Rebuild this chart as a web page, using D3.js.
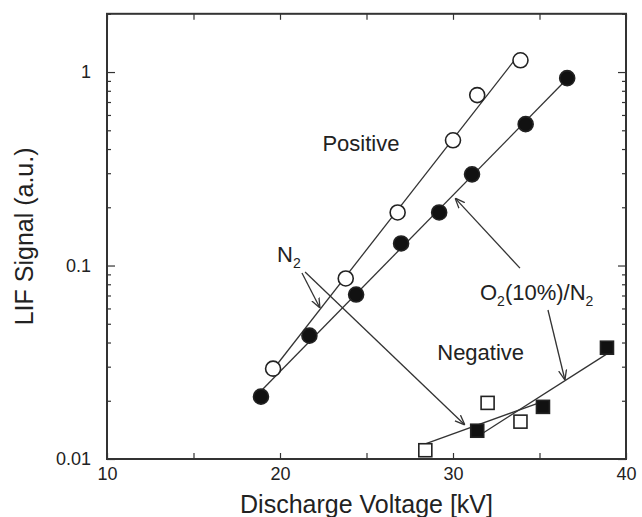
<!DOCTYPE html>
<html>
<head>
<meta charset="utf-8">
<script src="https://cdn.jsdelivr.net/npm/d3@7"></script>
<style>
    body { margin: 0; background: #fff; }
    text { font-family: "Liberation Sans", Arial, Helvetica, sans-serif; fill: #222; }
</style>
</head>
<body>
<div id="chart"></div>
<script>
// positive discharge, N2 (open circles)
var n2PosVoltage = [19.6, 23.8, 26.8, 30.0, 31.4, 33.9];
var n2PosSignal = [0.0293, 0.0857, 0.188, 0.444, 0.76, 1.15];
// positive discharge, O2(10%)/N2 (filled circles)
var o2PosVoltage = [18.9, 21.7, 24.4, 27.0, 29.2, 31.1, 34.2, 36.6];
var o2PosSignal = [0.021, 0.0434, 0.0708, 0.13, 0.188, 0.296, 0.538, 0.93];
// negative discharge, N2 (open squares)
var n2NegVoltage = [28.4, 32.0, 33.9];
var n2NegSignal = [0.0111, 0.0195, 0.0156];
// negative discharge, O2(10%)/N2 (filled squares)
var o2NegVoltage = [31.4, 35.2, 38.9];
var o2NegSignal = [0.014, 0.0186, 0.0376];

// voltage span of each fitted line
var n2PosFit = [19.6, 33.9];
var o2PosFit = [18.9, 36.6];
var n2NegFit = [28.4, 35.3];
var o2NegFit = [31.4, 38.9];

var xTicks = [10, 15, 20, 25, 30, 35, 40];
var xTickLabels = [10, 20, 30, 40];
var yTickLabels = [0.01, 0.1, 1];

// annotation arrows [x1, y1, x2, y2] in data units
var arrows = [
    [21.27, 0.0915, 22.31, 0.0603],
    [21.45, 0.0925, 30.69, 0.015],
    [33.87, 0.097, 30.12, 0.223],
    [35.49, 0.0589, 36.47, 0.0256]
];

var margin = { top: 13.8, right: 16, bottom: 58, left: 107 };
var width = 642 - margin.left - margin.right;
var height = 517 - margin.top - margin.bottom;

var svg = d3
    .select("#chart")
    .append("svg")
    .attr("width", 642)
    .attr("height", 517)
    .append("g")
    .attr("transform", "translate(" + margin.left + "," + margin.top + ")");

var x = d3.scaleLinear().domain([10, 40]).range([0, width]);
var y = d3.scaleLog().domain([0.01, 2]).range([height, 0]);

var defs = svg.append("defs");
defs.append("marker")
    .attr("id", "head")
    .attr("viewBox", "0 0 10 10")
    .attr("refX", 10)
    .attr("refY", 5)
    .attr("markerWidth", 10)
    .attr("markerHeight", 10)
    .attr("markerUnits", "userSpaceOnUse")
    .attr("orient", "auto")
    .append("path")
    .attr("d", "M0,1 L10,5 L0,9")
    .attr("fill", "none")
    .attr("stroke", "#333")
    .attr("stroke-width", 1.3);

// minor log ticks
var minor = [];
[0.01, 0.1, 1].forEach(function (dec) {
    for (var k = 2; k <= 9; k++) {
        if (dec * k <= 2) minor.push(dec * k);
    }
});

var makeAxis = function () {
    svg.append("g")
        .attr("class", "axis")
        .attr("transform", "translate(0," + height + ")")
        .call(d3.axisBottom(x).tickValues(xTicks).tickSize(-6).tickPadding(8)
            .tickFormat(function (d) { return xTickLabels.indexOf(d) >= 0 ? d : ""; }));
    svg.append("g")
        .attr("class", "axis")
        .call(d3.axisTop(x).tickValues(xTicks).tickSize(-6).tickFormat(""));
    svg.append("g")
        .attr("class", "axis")
        .call(d3.axisLeft(y).tickValues(yTickLabels).tickSize(-8).tickPadding(16)
            .tickFormat(function (d) { return String(d); }));
    svg.append("g")
        .attr("class", "axis")
        .call(d3.axisLeft(y).tickValues(minor).tickSize(-4).tickFormat(""));
    svg.append("g")
        .attr("class", "axis")
        .attr("transform", "translate(" + width + ",0)")
        .call(d3.axisRight(y).tickValues(yTickLabels).tickSize(-8).tickFormat(""));
    svg.append("g")
        .attr("class", "axis")
        .attr("transform", "translate(" + width + ",0)")
        .call(d3.axisRight(y).tickValues(minor).tickSize(-4).tickFormat(""));

    svg.selectAll(".axis .domain").remove();
    svg.selectAll(".axis line").attr("stroke", "#333").attr("stroke-width", 1.2);
    svg.selectAll(".axis text")
        .style("font-size", "18px")
        .style("font-family", "'Liberation Sans', Arial, sans-serif")
        .attr("fill", "#222");

    svg.append("rect")
        .attr("width", width)
        .attr("height", height)
        .attr("fill", "none")
        .attr("stroke", "#333")
        .attr("stroke-width", 2);

    svg.append("text")
        .attr("x", width / 2)
        .attr("y", height + 54)
        .attr("text-anchor", "middle")
        .style("font-size", "25px")
        .text("Discharge Voltage [kV]");
    svg.append("text")
        .attr("transform", "translate(" + (33 - margin.left) + "," + height / 2 + ") rotate(-90)")
        .attr("text-anchor", "middle")
        .style("font-size", "25px")
        .text("LIF Signal (a.u.)");
};

// least squares in log space, drawn between the span ends
var fitLine = function (vx, vy, span) {
    var ly = vy.map(function (v) { return Math.log10(v); });
    var mx = d3.mean(vx);
    var my = d3.mean(ly);
    var sxy = d3.sum(vx, function (v, i) { return (v - mx) * (ly[i] - my); });
    var sxx = d3.sum(vx, function (v) { return (v - mx) * (v - mx); });
    var b = sxy / sxx;
    svg.append("line")
        .attr("x1", x(span[0]))
        .attr("y1", y(Math.pow(10, my + b * (span[0] - mx))))
        .attr("x2", x(span[1]))
        .attr("y2", y(Math.pow(10, my + b * (span[1] - mx))))
        .attr("stroke", "#333")
        .attr("stroke-width", 1.3);
};

var addCircles = function (vx, vy, filled) {
    svg.selectAll(null)
        .data(vx)
        .enter()
        .append("circle")
        .attr("cx", function (d) { return x(d); })
        .attr("cy", function (d, i) { return y(vy[i]); })
        .attr("r", 7.5)
        .attr("fill", filled ? "#111" : "#fff")
        .attr("stroke", "#222")
        .attr("stroke-width", 1.6);
};

var addSquares = function (vx, vy, filled) {
    var s = 13;
    svg.selectAll(null)
        .data(vx)
        .enter()
        .append("rect")
        .attr("x", function (d) { return x(d) - s / 2; })
        .attr("y", function (d, i) { return y(vy[i]) - s / 2; })
        .attr("width", s)
        .attr("height", s)
        .attr("fill", filled ? "#111" : "#fff")
        .attr("stroke", "#222")
        .attr("stroke-width", 1.6);
};

makeAxis();

fitLine(n2PosVoltage, n2PosSignal, n2PosFit);
fitLine(o2PosVoltage, o2PosSignal, o2PosFit);
fitLine(n2NegVoltage, n2NegSignal, n2NegFit);
fitLine(o2NegVoltage, o2NegSignal, o2NegFit);

svg.selectAll(".arrow")
    .data(arrows)
    .enter()
    .append("line")
    .attr("class", "arrow")
    .attr("x1", function (d) { return x(d[0]); })
    .attr("y1", function (d) { return y(d[1]); })
    .attr("x2", function (d) { return x(d[2]); })
    .attr("y2", function (d) { return y(d[3]); })
    .attr("stroke", "#333")
    .attr("stroke-width", 1.3)
    .attr("marker-end", "url(#head)");

addCircles(n2PosVoltage, n2PosSignal, false);
addCircles(o2PosVoltage, o2PosSignal, true);
addSquares(n2NegVoltage, n2NegSignal, false);
addSquares(o2NegVoltage, o2NegSignal, true);

// labels
svg.append("text")
    .attr("x", x(24.68))
    .attr("y", y(0.391))
    .attr("text-anchor", "middle")
    .style("font-size", "22px")
    .text("Positive");
svg.append("text")
    .attr("x", x(31.6))
    .attr("y", y(0.0325))
    .attr("text-anchor", "middle")
    .style("font-size", "22px")
    .text("Negative");

var n2 = svg.append("text")
    .attr("x", x(19.83))
    .attr("y", y(0.104))
    .style("font-size", "22px");
n2.append("tspan").text("N");
n2.append("tspan").attr("dy", 6).style("font-size", "14px").text("2");

var o2 = svg.append("text")
    .attr("x", x(31.56))
    .attr("y", y(0.0664))
    .style("font-size", "22px");
o2.append("tspan").text("O");
o2.append("tspan").attr("dy", 6).style("font-size", "14px").text("2");
o2.append("tspan").attr("dy", -6).text("(10%)/N");
o2.append("tspan").attr("dy", 6).style("font-size", "14px").text("2");
</script>
</body>
</html>
